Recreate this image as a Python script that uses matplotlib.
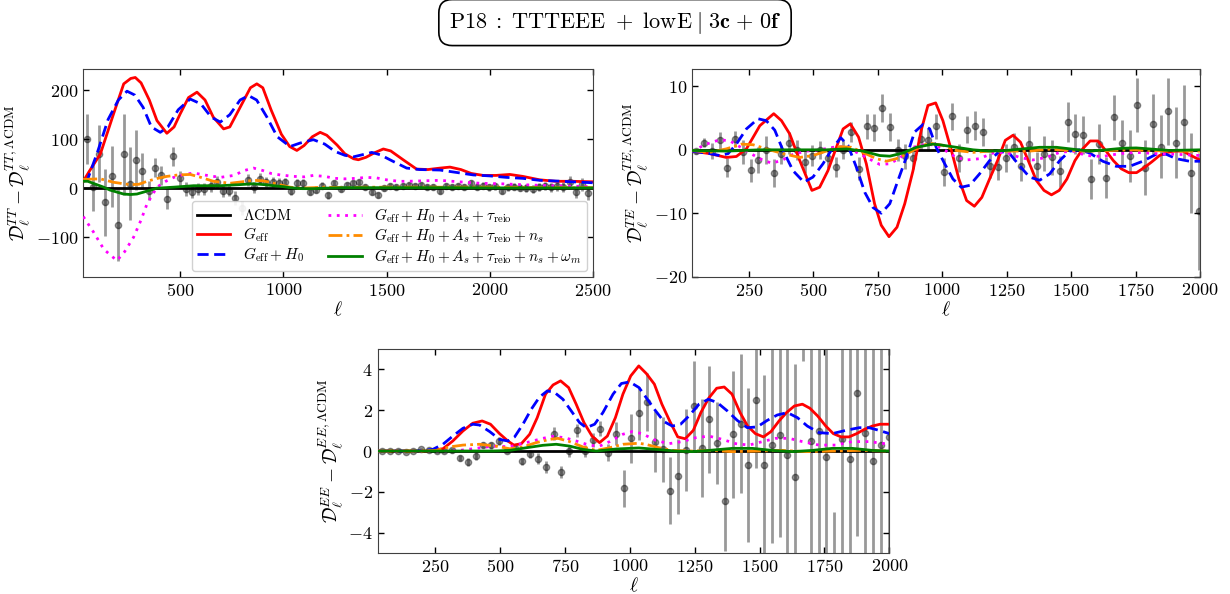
import matplotlib
import numpy as np

matplotlib.use('Agg')

import matplotlib.pyplot as plt  # noqa: E402

plt.rcParams.update({
    'font.family': 'serif',
    'font.serif': ['cmr10'],
    'mathtext.fontset': 'cm',
    'axes.formatter.use_mathtext': True,
    'axes.unicode_minus': True,
    'font.size': 13,
    'xtick.labelsize': 13,
    'ytick.labelsize': 13,
    'axes.labelsize': 14,
    'axes.edgecolor': '0.25',
})

# ---------------- TT ----------------
tt_val = [101, 2, 70, -29, 24, -75, 69, 9, 58, 35, -5, 42, 26, -22, 65, 20, -2, -7, -2, -2,
          5, 12, -6, -5, -20, -40, 16, 2, 19, 12, 12, 11, 12, -6, 10, 10, -8, -3, 5, -15,
          10, -1, 7, 10, 12, 3, -8, -14, 0, 5, 3, 5, 6, 4, 6, 3, 2, -6, 5, 2,
          4, 3, 10, 3, 5, 2, 4, -5, 2, 3, 1, 0, -1, 2, 4, 2, 4, 3, 12, -8,
          8, -10]
tt_err = [51, 49, 58, 68, 62, 74, 83, 75, 61, 36, 20, 19, 20, 20, 20, 15, 15, 14, 13, 13,
          12, 12, 12, 12, 14, 14, 12, 11, 11, 10, 10, 9, 9, 8, 8, 8, 7, 7, 7, 7,
          6, 6, 6, 6, 6, 6, 6, 6, 6, 6, 6, 6, 6, 6, 6, 6, 6, 6, 6, 6,
          6, 6, 6, 7, 7, 7, 7, 7, 7, 7, 7, 8, 8, 8, 8, 9, 9, 10, 12, 12,
          13, 15]
ell_tt = np.arange(47, 47 + 30 * len(tt_val), 30)

tt_geff_l = [30, 60, 113, 177, 226, 260, 282, 310, 350, 387, 435, 470, 500, 540, 581, 620, 660,
             710, 740, 790, 840, 871, 900, 940, 990, 1030, 1065, 1100, 1140, 1178, 1210, 1260,
             1298, 1340, 1363, 1400, 1440, 1484, 1520, 1580, 1645, 1700, 1760, 1807, 1860,
             1910, 1968, 2030, 2097, 2160, 2242, 2320, 2400, 2500]
tt_geff = [14, 35, 70, 152, 213, 224, 226, 215, 180, 138, 112, 125, 152, 185, 196, 180, 145,
           121, 125, 165, 205, 213, 205, 160, 110, 85, 77, 87, 105, 114, 108, 88,
           70, 60, 58, 63, 72, 80, 76, 58, 39, 38, 41, 43, 38,
           30, 26, 26, 28, 24, 17, 14, 14, 13]
tt_h0_l = [30, 52, 100, 150, 200, 242, 280, 320, 360, 403, 440, 490, 548, 600, 650, 694, 740,
           790, 831, 870, 920, 970, 1032, 1080, 1145, 1200, 1250, 1298, 1340, 1380, 1428,
           1470, 1530, 1597, 1660, 1758, 1840, 1920, 2000, 2081, 2160, 2242, 2350, 2500]
tt_h0 = [14, 19, 75, 140, 180, 198, 190, 165, 125, 114, 125, 160, 182, 172, 145, 135, 150,
         180, 189, 180, 145, 105, 85, 92, 99, 90, 75, 67, 64, 68, 73,
         68, 55, 41, 38, 37, 32, 27, 25, 22, 20, 16, 14, 11]
tt_as_l = [30, 80, 130, 193, 230, 274, 310, 339, 387, 430, 468, 520, 565, 630, 694, 760, 810,
           855, 900, 940, 984, 1050, 1100, 1145, 1200, 1250, 1298, 1350, 1403, 1450, 1500,
           1560, 1600, 1680, 1758, 1850, 1952, 2050, 2162, 2300, 2500]
tt_as = [-58, -90, -125, -148, -130, -100, -65, -32, 2, 14, 22, 28, 31, 26, 22, 26, 36,
         41, 36, 30, 27, 24, 23, 26, 24, 20, 19, 20, 22, 21, 17,
         14, 14, 15, 16, 13, 10, 9, 7, 5, 3]
tt_ns_l = [30, 113, 177, 258, 300, 339, 390, 435, 490, 548, 600, 661, 742, 800, 855, 900, 935,
           980, 1032, 1080, 1145, 1200, 1298, 1400, 1500, 1700, 2000, 2300, 2500]
tt_ns = [18, 19, 12, 7, 8, 14, 20, 24, 27, 28, 22, 14, 10, 13, 16, 15, 12,
         7, 2, 0, 1, 2, 1, 2, 2, 2, 2, 1, 1]
tt_wm_l = [30, 52, 90, 129, 160, 193, 225, 258, 290, 323, 355, 387, 468, 565, 694, 780, 855,
           910, 952, 1000, 1032, 1090, 1145, 1200, 1300, 1500, 1800, 2100, 2500]
tt_wm = [14, 14, 8, 2, -4, -8, -12, -13, -12, -8, -4, 0, 2, 5, 5, 7, 9,
         7, 5, 3, 1, -1, -1, 0, 1, 1, 1, 0.5, 0.5]

# ---------------- TE ----------------
te_val = [-0.2, 1.1, -0.2, 1.5, -2.8, 1.7, -0.3, -3.2, -1.6, 0, -3.7, -0.7, 1.1, 0, -1.9, -0.9,
          0, -1.3, -2.7, 0, 2.8, -3.0, 3.7, 3.5, 6.6, 3.6, 0, -1.05, -1.3, 1.7, 1.6, 3.7,
          -3.5, 5.3, -1.3, 3.2, 3.8, 2.8, -2.5, -2.7, -1.3, 0.5, -2.5, 0.9, -2.5, -0.6, -1.2,
          -3.4, 4.4, 2.5, 2.4, -4.6, 0.9, -4.4, 5.1, 1.1, -0.9, 7.1, -2.8, 4.1, 0.5, 6.1,
          1.1, 4.4, -3.7, -9.7]
te_err = [0.4, 0.7, 1.2, 1.3, 1.5, 1.2, 1.9, 1.8, 2.0, 2.2, 2.2, 1.5, 1.7, 1.6, 1.7, 1.6,
          1.4, 1.5, 1.6, 1.5, 1.6, 1.8, 2.0, 2.1, 2.2, 2.2, 1.7, 2.0, 1.8, 1.7, 1.8, 2.0,
          2.2, 2.1, 2.2, 2.2, 2.3, 2.2, 2.0, 2.1, 2.2, 2.1, 2.4, 2.8, 2.1, 2.8, 2.8,
          2.4, 3.1, 3.1, 3.0, 3.2, 3.1, 3.2, 3.5, 3.6, 4.1, 4.3, 4.3, 4.7, 5.0, 5.3,
          5.6, 5.8, 6.3, 9.2]
ell_te = np.arange(47, 47 + 30 * len(te_val), 30)

te_geff_l = [30, 99, 163, 202, 241, 293, 347, 377, 409, 448, 495, 525, 557, 590, 616, 644, 676,
             706, 738, 764, 794, 825, 855, 887, 919, 945, 975, 1003, 1036, 1065, 1095, 1125,
             1154, 1184, 1215, 1245, 1275, 1304, 1334, 1365, 1395, 1424, 1454, 1484, 1515,
             1545, 1574, 1604, 1634, 1664, 1695, 1724, 1754, 1784, 1813, 1843, 1874, 1904,
             1934, 1965, 2000]
te_geff = [-0.2, -0.6, -1.2, -1.05, 0.15, 3.8, 5.7, 4.6, 2.5, -1.7, -6.4, -5.9, -3.3, 0.4, 3.3,
           4.1, 2.0, -2.2, -8.5, -11.9, -13.7, -12.2, -8.5, -3.3, 3.1, 7.0, 7.4, 4.6, -0.1,
           -4.6, -8.0, -8.9, -7.5, -4.6, -1.7, 1.5, 2.3, 1.2, -1.7, -4.8, -6.4, -7.1, -6.4,
           -4.6, -1.7, 0.15, 1.4, 1.4, -0.1, -1.7, -3.0, -3.6, -3.6, -2.8, -1.9, -0.9, -0.4,
           -0.2, -0.2, -0.9, -1.6]
te_h0_l = [30, 99, 138, 170, 202, 241, 286, 318, 351, 383, 422, 464, 499, 538, 577, 607, 635,
           667, 700, 732, 764, 797, 829, 861, 893, 926, 952, 977, 1010, 1042, 1074, 1107,
           1145, 1184, 1223, 1262, 1300, 1339, 1378, 1417, 1456, 1494, 1533, 1572, 1623,
           1675, 1727, 1778, 1830, 1869, 1908, 1959, 2000]
te_h0 = [-0.2, -0.6, -0.9, -0.6, 0.9, 3.3, 4.9, 4.6, 3.1, -0.1, -3.3, -5.1, -4.3, -2.2, 0.4,
         1.9, 0.7, -2.7, -6.7, -9.1, -10.0, -8.5, -4.8, -1.2, 2.8, 4.0, 3.3, 0.4, -2.2, -4.6,
         -5.9, -5.6, -3.8, -1.7, -0.2, -0.6, -2.5, -4.3, -4.8, -3.8, -1.7, -0.2, 0, -0.5,
         -1.8, -2.6, -2.6, -1.8, -0.7, -0.7, -1.4, -1.8, -1.8]
te_as_l = [30, 86, 138, 177, 215, 254, 293, 338, 377, 422, 474, 525, 577, 616, 654, 706, 758,
           797, 835, 887, 939, 977, 1016, 1055, 1094, 1145, 1197, 1249, 1300, 1352, 1404,
           1456, 1507, 1559, 1623, 1688, 1753, 1830, 1908, 2000]
te_as = [-0.2, 0.9, 1.6, 1.4, 0.5, -0.5, -1.4, -2.1, -1.7, -0.7, -0.2, 0, 0.4, 0.5, -0.1, -1.2,
         -2.3, -2.2, -1.3, 0.4, 0.9, 0.7, -0.2, -1.2, -1.6, -1.4, -0.5, -0.4, -1.2, -1.6,
         -1.2, -0.4, -0.2, -0.9, -1.05, -0.6, -0.4, -0.6, -0.7, -0.9]
te_ns_l = [30, 99, 163, 222, 267, 318, 383, 448, 499, 551, 603, 648, 693, 745, 784, 822, 874,
           926, 952, 1003, 1055, 1120, 1184, 1262, 1339, 1417, 1494, 1572, 1649, 1727, 1804,
           1882, 2000]
te_ns = [-0.1, -0.4, 0.15, 0.9, 0.8, 0.15, -0.6, -1.2, -0.9, -0.2, 0.5, 0.4, -0.4, -1.4, -1.8,
         -1.4, -0.4, 0.7, 1.05, 0.7, -0.1, -0.4, -0.2, -0.2, -0.2, 0.1, -0.1, -0.2, -0.1, 0,
         -0.1, -0.2, -0.2]
te_wm_l = [30, 163, 293, 422, 551, 629, 693, 758, 797, 848, 900, 964, 990, 1055, 1120, 1184,
           1249, 1313, 1378, 1443, 1507, 1572, 1636, 1701, 1753, 1817, 1882, 2000]
te_wm = [-0.1, -0.2, 0, 0, 0, 0.15, -0.2, -0.9, -1.0, -0.5, 0.4, 0.9, 0.8, 0.4, 0, -0.2,
         -0.1, 0.15, 0.4, 0.4, 0.1, -0.2, 0, 0.25, 0.3, 0.1, -0.1, 0]

# ---------------- EE ----------------
ee_val = [0, 0, 0, -0.03, 0, 0.08, 0.03, 0, 0, 0.03, -0.33, -0.54, -0.24, 0.29, 0.29, 0.5,
          0, 0.16, -0.49, -0.13, -0.38, -0.78, 0.85, -1.03, 0, 1.01, 0, 0.54, 1.09, -0.08,
          0.85, -1.83, 0.62, 1.84, 2.4, 0.46, 0.08, -1.93, -1.24, 0.03, 2.2, 0.16, 1.55, 0.41,
          -2.42, 0.82, 1.34, -0.69, 2.48, -0.7, 0.3, 0.8, -0.2, -1.26, 7.0, 0.5, 1.0, -0.3,
          -6.5, 0.6, -0.4, 2.86, 0.9, -0.5, 0.3, 0.7]
ee_err = [0.05, 0.05, 0.05, 0.05, 0.06, 0.07, 0.08, 0.1, 0.12, 0.12, 0.15, 0.2, 0.19, 0.15,
          0.17, 0.2, 0.12, 0.2, 0.17, 0.2, 0.26, 0.3, 0.32, 0.3, 0.3, 0.33, 0.3, 0.35, 0.38,
          0.43, 0.55, 0.9, 1.2, 1.3, 1.4, 1.5, 1.6, 1.65, 1.85, 2.0, 2.2, 2.4, 2.6, 2.0, 2.45,
          3.1, 3.4, 3.75, 3.3, 4.4, 4.8, 5.0, 5.3, 5.5, 2.6, 5.8, 6.0, 6.3, 3.5, 6.6, 6.8,
          7.0, 7.2, 7.5, 7.8, 8.0]
ell_ee = np.arange(47, 47 + 30 * len(ee_val), 30)

ee_geff_l = [30, 217, 281, 319, 358, 396, 432, 464, 499, 531, 554, 583, 615, 644, 676, 705, 734,
             765, 794, 824, 855, 884, 914, 945, 974, 1004, 1035, 1064, 1095, 1124, 1154, 1185,
             1214, 1245, 1274, 1304, 1335, 1364, 1394, 1425, 1454, 1484, 1515, 1544, 1575,
             1604, 1634, 1665, 1694, 1724, 1755, 1784, 1814, 1844, 1874, 1904, 1934, 1964, 2000]
ee_geff = [0, 0, 0.11, 0.49, 0.98, 1.36, 1.47, 1.31, 0.85, 0.49, 0.29, 0.36, 0.82, 1.63, 2.78,
           3.23, 3.43, 3.1, 2.29, 1.39, 0.73, 0.41, 0.73, 1.63, 2.78, 3.67, 4.16, 3.79, 3.27,
           2.29, 1.47, 0.69, 0.6, 1.01, 1.88, 2.58, 3.07, 3.13, 2.78, 1.88, 1.22, 0.85, 0.69,
           0.95, 1.47, 1.88, 2.2, 2.29, 2.09, 1.71, 1.22, 0.85, 0.69, 0.69, 0.85, 1.06, 1.22,
           1.31, 1.31]
ee_h0_l = [30, 178, 242, 281, 319, 358, 396, 422, 461, 499, 531, 557, 589, 621, 653, 683, 711,
           743, 775, 807, 833, 865, 897, 936, 968, 1000, 1036, 1068, 1100, 1132, 1164, 1196,
           1228, 1267, 1303, 1337, 1376, 1414, 1453, 1491, 1530, 1568, 1607, 1646, 1684,
           1729, 1780, 1832, 1883, 1922, 1960, 2000]
ee_h0 = [0, 0, 0.08, 0.33, 0.73, 1.11, 1.31, 1.27, 0.95, 0.57, 0.49, 0.69, 1.31, 2.04, 2.64,
         2.94, 2.86, 2.53, 1.96, 1.39, 1.14, 1.31, 1.88, 2.78, 3.3, 3.38, 3.1, 2.53, 1.96,
         1.44, 1.22, 1.31, 1.71, 2.29, 2.53, 2.37, 1.96, 1.5, 1.14, 1.18, 1.5, 1.76, 1.88,
         1.63, 1.22, 0.9, 0.85, 1.01, 1.14, 1.14, 1.01, 0.85]
ee_as_l = [30, 280, 345, 409, 473, 538, 602, 666, 705, 750, 794, 846, 884, 923, 974, 1010, 1048,
           1100, 1151, 1202, 1254, 1305, 1357, 1408, 1460, 1511, 1562, 1614, 1665, 1729, 1793,
           1857, 1922, 2000]
ee_as = [0, 0, 0.03, 0.13, 0.24, 0.21, 0.41, 0.62, 0.72, 0.65, 0.49, 0.28, 0.24, 0.46, 0.82,
         0.95, 0.85, 0.52, 0.36, 0.46, 0.65, 0.73, 0.57, 0.36, 0.29, 0.46, 0.62, 0.62, 0.46,
         0.29, 0.29, 0.46, 0.46, 0.33]
ee_ns_l = [30, 200, 255, 306, 358, 422, 486, 538, 589, 640, 692, 724, 769, 820, 871, 923, 974,
           1035, 1061, 1113, 1164, 1241, 1318, 1395, 1498, 1588, 1678, 1780, 1883, 2000]
ee_ns = [0, 0, 0.03, 0.2, 0.29, 0.33, 0.24, 0.11, 0.2, 0.41, 0.57, 0.62, 0.46, 0.2, 0.03, 0.16,
         0.33, 0.38, 0.33, 0.16, 0.03, 0, 0.03, -0.03, 0, 0.03, -0.03, 0, 0.03, 0]
ee_wm_l = [30, 473, 538, 602, 666, 717, 769, 820, 871, 949, 1035, 1113, 1177, 1241, 1305, 1395,
           1472, 1549, 1627, 1703, 1780, 1857, 1934, 2000]
ee_wm = [0, 0, 0.03, 0.16, 0.28, 0.33, 0.24, 0.08, 0, 0.1, 0.15, 0.07, 0, -0.03, 0.03, 0.13,
         0.13, 0.03, -0.03, 0.03, 0.13, 0.13, 0.03, 0]

labels = [r'$\Lambda\mathrm{CDM}$',
          r'$G_{\rm eff}$',
          r'$G_{\rm eff} + H_0$',
          r'$G_{\rm eff} + H_0 + A_s + \tau_{\rm reio}$',
          r'$G_{\rm eff} + H_0 + A_s + \tau_{\rm reio} + n_s$',
          r'$G_{\rm eff} + H_0 + A_s + \tau_{\rm reio} + n_s + \omega_m$']
styles = [('red', '-'), ('blue', (0, (4, 2))), ('magenta', (0, (1, 2))),
          ('darkorange', (0, (5, 1.5, 1, 1.5))), ('green', '-')]


def panel(ax, ell, val, err, curves, xlim, ylim, ylabel):
    ax.errorbar(ell, val, yerr=err, fmt='o', color='k', alpha=0.4, ms=4.5,
                elinewidth=2, capsize=0, zorder=1)
    ax.axhline(0, color='k', lw=2, label=labels[0], zorder=2)
    for (lx, ly), (col, ls), lab in zip(curves, styles, labels[1:]):
        ax.plot(lx, ly, color=col, ls=ls, lw=2, label=lab, zorder=3)
    ax.set_xlim(*xlim)
    ax.set_ylim(*ylim)
    ax.set_xlabel(r'$\ell$', labelpad=1)
    ax.set_ylabel(ylabel, labelpad=2)
    ax.tick_params(direction='in', top=True, right=True, length=4, width=1)


fig = plt.figure(figsize=(12.3, 5.94), dpi=100)
ax_tt = fig.add_axes([0.0677, 0.5332, 0.4144, 0.3512])
ax_te = fig.add_axes([0.5626, 0.5332, 0.413, 0.3512])
ax_ee = fig.add_axes([0.3071, 0.0685, 0.416, 0.3444])

panel(ax_tt, ell_tt, tt_val, tt_err,
      [(tt_geff_l, tt_geff), (tt_h0_l, tt_h0), (tt_as_l, tt_as), (tt_ns_l, tt_ns), (tt_wm_l, tt_wm)],
      (30, 2500), (-182, 244),
      r'$\mathcal{D}_\ell^{TT} - \mathcal{D}_\ell^{TT,\Lambda\mathrm{CDM}}$')
panel(ax_te, ell_te, te_val, te_err,
      [(te_geff_l, te_geff), (te_h0_l, te_h0), (te_as_l, te_as), (te_ns_l, te_ns), (te_wm_l, te_wm)],
      (30, 2000), (-20.1, 12.8),
      r'$\mathcal{D}_\ell^{TE} - \mathcal{D}_\ell^{TE,\Lambda\mathrm{CDM}}$')
panel(ax_ee, ell_ee, ee_val, ee_err,
      [(ee_geff_l, ee_geff), (ee_h0_l, ee_h0), (ee_as_l, ee_as), (ee_ns_l, ee_ns), (ee_wm_l, ee_wm)],
      (30, 2000), (-5, 5),
      r'$\mathcal{D}_\ell^{EE} - \mathcal{D}_\ell^{EE,\Lambda\mathrm{CDM}}$')
ax_tt.set_yticks([-100, 0, 100, 200])
ax_te.set_yticks([-20, -10, 0, 10])

ax_tt.legend(loc='lower right', ncol=2, fontsize=11, handlelength=2.2,
             labelspacing=0.12, borderpad=0.35, columnspacing=1.6, borderaxespad=0.4,
             framealpha=0.9)

fig.text(0.5, 0.962,
         r'$\mathrm{P18}\;:\;\mathrm{TTTEEE}\ +\ \mathrm{lowE}\;|\;\mathbf{3c}\ \mathbf{+}\ \mathbf{0f}$',
         ha='center', va='center', fontsize=16,
         bbox=dict(boxstyle='round,pad=0.45,rounding_size=0.6', fc='white', ec='black', lw=1.2))

fig.savefig('out.png', dpi=100, facecolor='white')
